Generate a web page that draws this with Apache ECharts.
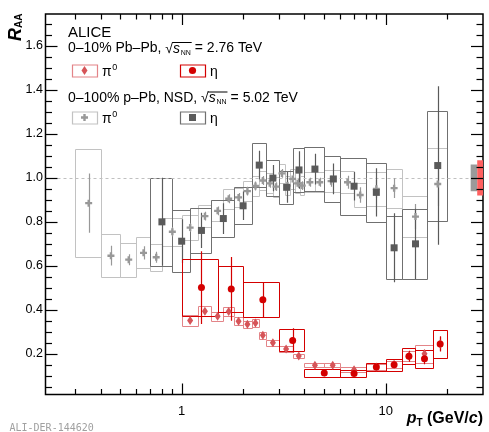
<!DOCTYPE html>
<html>
<head>
<meta charset="utf-8">
<script src="https://cdn.jsdelivr.net/npm/echarts@6/dist/echarts.min.js"></script>
<style>
html,body{margin:0;padding:0;background:#fff;}
#chart{width:489px;height:432px;}
</style>
</head>
<body>
<div id="chart"></div>
<script>
// ---------- p-Pb, 0-100% NSD, sqrt(sNN)=5.02 TeV : pi0 ----------
const pPbPi0Lo   = [0.3,0.4,0.5,0.6,0.7,0.8,1.0,1.2,1.4,1.6,1.8,2.0,2.2,2.4,2.6,2.8,3.0,3.2,3.4,3.6,3.8,4.0,4.5,5.0,6.0,7.0,8,10,12,16];
const pPbPi0Hi   = [0.4,0.5,0.6,0.7,0.8,1.0,1.2,1.4,1.6,1.8,2.0,2.2,2.4,2.6,2.8,3.0,3.2,3.4,3.6,3.8,4.0,4.5,5.0,6.0,7.0,8.0,10,12,16,20];
const pPbPi0X    = [0.35,0.45,0.55,0.65,0.75,0.9,1.1,1.3,1.5,1.7,1.9,2.1,2.3,2.5,2.7,2.9,3.1,3.3,3.5,3.7,3.9,4.25,4.75,5.4,6.5,7.5,9,11,14,18];
const pPbPi0Y    = [0.885,0.646,0.628,0.659,0.639,0.755,0.774,0.826,0.85,0.905,0.911,0.94,0.963,0.988,0.975,0.96,1.02,0.965,0.995,0.975,0.965,0.98,0.98,0.985,0.98,0.922,0.95,0.953,0.824,0.972];
const pPbPi0Stat = [0.135,0.045,0.025,0.03,0.025,0.022,0.02,0.02,0.02,0.02,0.02,0.02,0.02,0.02,0.02,0.02,0.02,0.02,0.02,0.02,0.02,0.02,0.02,0.025,0.03,0.035,0.04,0.045,0.057,0.1];
const pPbPi0Sys  = [0.245,0.099,0.078,0.07,0.062,0.063,0.055,0.05,0.048,0.045,0.045,0.045,0.045,0.045,0.045,0.045,0.045,0.045,0.045,0.045,0.045,0.045,0.045,0.05,0.05,0.055,0.076,0.089,0.095,0.166];

// ---------- p-Pb : eta ----------
const pPbEtaLo   = [0.7,0.9,1.1,1.4,1.8,2.2,2.6,3.0,3.5,4,5,6,8,10,12,16];
const pPbEtaHi   = [0.9,1.1,1.4,1.8,2.2,2.6,3.0,3.5,4.0,5,6,8,10,12,16,20];
const pPbEtaX    = [0.8,1.0,1.25,1.6,2.0,2.4,2.8,3.27,3.76,4.5,5.54,7.0,9.0,11,14,18];
const pPbEtaY    = [0.80,0.712,0.761,0.815,0.873,1.058,0.999,0.957,1.036,1.04,0.995,0.962,0.934,0.682,0.70,1.056];
const pPbEtaStat = [0.2,0.1,0.08,0.07,0.065,0.065,0.06,0.07,0.085,0.07,0.07,0.065,0.11,0.157,0.16,0.36];
const pPbEtaSys  = [0.2,0.14,0.103,0.086,0.084,0.1,0.083,0.075,0.1,0.1,0.105,0.13,0.135,0.143,0.159,0.25];

// ---------- Pb-Pb, 0-10%, sqrt(sNN)=2.76 TeV : pi0 ----------
const pbPi0Lo   = [1.0,1.2,1.4,1.6,1.8,2.0,2.2,2.4,2.6,3.0,3.5,4,5,6,8,10,12,14,17];
const pbPi0Hi   = [1.2,1.4,1.6,1.8,2.0,2.2,2.4,2.6,3.0,3.5,4.0,5,6,8,10,12,14,17,20];
const pbPi0X    = [1.1,1.3,1.5,1.7,1.9,2.1,2.3,2.5,2.8,3.25,3.75,4.5,5.5,7,9,11,13,15.5,18.5];
const pbPi0Y    = [0.352,0.394,0.371,0.392,0.348,0.334,0.34,0.284,0.25,0.222,0.19,0.148,0.148,0.128,0.14,0.152,0.19,0.2,0.245];
const pbPi0Stat = [0.008,0.008,0.008,0.008,0.008,0.008,0.008,0.008,0.008,0.008,0.008,0.008,0.008,0.008,0.01,0.012,0.015,0.02,0.03];
const pbPi0Sys  = [0.024,0.023,0.02,0.02,0.018,0.017,0.017,0.015,0.013,0.012,0.011,0.01,0.01,0.01,0.012,0.015,0.022,0.04,0.065];

// ---------- Pb-Pb : eta ----------
const pbEtaLo   = [1.0,1.5,2.0,3.0,4,6,8,10,12,14,17];
const pbEtaHi   = [1.5,2.0,3.0,4.0,6,8,10,12,14,17,20];
const pbEtaX    = [1.25,1.75,2.5,3.5,5,7,9,11,13,15.5,18.5];
const pbEtaY    = [0.501,0.495,0.446,0.261,0.113,0.11,0.14,0.15,0.189,0.177,0.245];
const pbEtaStat = [0.165,0.145,0.08,0.055,0.015,0.012,0.015,0.015,0.025,0.025,0.035];
const pbEtaSys  = [0.131,0.105,0.079,0.05,0.018,0.017,0.02,0.027,0.036,0.04,0.065];

// normalisation uncertainties (drawn at R = 1 on the right edge)
const normLo    = [26.1, 28.1];
const normHi    = [28.1, 30];
const normErr   = [0.061, 0.08];
const normColor = ['#9a9a9a', '#ff6060'];

// axis ticks and labels
const X_MIN = 0.215, X_MAX = 30, Y_MIN = 0.015, Y_MAX = 1.745;
const xMajor = [1, 10];
const xMinor = [0.3,0.4,0.5,0.6,0.7,0.8,0.9,2,3,4,5,6,7,8,9,20];
const yMajor = [0.2,0.4,0.6,0.8,1.0,1.2,1.4,1.6];
const yMinor = [];
for (let k = 1; k <= 34; k++) {
  const v = +(k * 0.05).toFixed(2);
  if (Math.abs(v / 0.2 - Math.round(v / 0.2)) > 1e-6) yMinor.push(v);
}

const FONT = '"Liberation Sans", Arial, Helvetica, sans-serif';
const C = {
  pbEta: '#d40000', pbEtaBox: '#d40000',
  pbPi0: '#d65458', pbPi0Box: '#e38488',
  pEta: '#5a5a5a', pEtaBox: '#707070',
  pPi0: '#989898', pPi0Box: '#c2c2c2'
};

function zip(a, b) { return a.map((v, i) => [v, b[i]]); }

function boxSeries(lo, hi, y, sys, color, z) {
  return {
    type: 'custom', silent: true, z: z, clip: true,
    encode: { x: [0, 1], y: 2 },
    data: lo.map((l, i) => [l, hi[i], y[i], sys[i]]),
    renderItem(params, api) {
      const a = api.coord([api.value(0), api.value(2) + api.value(3)]);
      const b = api.coord([api.value(1), api.value(2) - api.value(3)]);
      const x0 = Math.round(a[0]) + 0.5, x1 = Math.round(b[0]) + 0.5;
      const y0 = Math.round(a[1]) + 0.5, y1 = Math.round(b[1]) + 0.5;
      return { type: 'rect', shape: { x: x0, y: y0, width: x1 - x0, height: y1 - y0 },
               style: { fill: 'none', stroke: color, lineWidth: 1 } };
    }
  };
}

function errSeries(x, y, err, color, z) {
  return {
    type: 'custom', silent: true, z: z, clip: true,
    encode: { x: 0, y: 1 },
    data: x.map((v, i) => [v, y[i], err[i]]),
    renderItem(params, api) {
      const lo = api.coord([api.value(0), api.value(1) - api.value(2)]);
      const hi = api.coord([api.value(0), api.value(1) + api.value(2)]);
      const px = Math.round(lo[0]) + 0.5;
      return { type: 'line', shape: { x1: px, y1: lo[1], x2: px, y2: hi[1] },
               style: { stroke: color, lineWidth: 1.2 } };
    }
  };
}

function markerSeries(x, y, symbol, size, color, z) {
  return {
    type: 'scatter', silent: true, z: z,
    symbol: symbol, symbolSize: size,
    itemStyle: { color: color, opacity: 1 },
    data: zip(x, y)
  };
}

const CROSS = 'path://M2,0H4V2H6V4H4V6H2V4H0V2H2Z';

function tickSeries(list, horizontal) {
  return {
    type: 'custom', silent: true, z: 20, clip: false,
    encode: { x: 0, y: 1 },
    data: list.map(t => horizontal ? [t[0], Y_MIN, t[1]] : [X_MIN, t[0], t[1]]),
    renderItem(params, api) {
      const len = api.value(2);
      const st = { stroke: '#000', lineWidth: 1.2 };
      if (horizontal) {
        const b = api.coord([api.value(0), Y_MIN]);
        const t = api.coord([api.value(0), Y_MAX]);
        const px = Math.round(b[0]) + 0.5;
        return { type: 'group', children: [
          { type: 'line', shape: { x1: px, y1: b[1], x2: px, y2: b[1] - len }, style: st },
          { type: 'line', shape: { x1: px, y1: t[1], x2: px, y2: t[1] + len }, style: st }
        ] };
      }
      const l = api.coord([X_MIN, api.value(1)]);
      const r = api.coord([X_MAX, api.value(1)]);
      const py = Math.round(l[1]) + 0.5;
      return { type: 'group', children: [
        { type: 'line', shape: { x1: l[0], y1: py, x2: l[0] + len, y2: py }, style: st },
        { type: 'line', shape: { x1: r[0], y1: py, x2: r[0] - len, y2: py }, style: st }
      ] };
    }
  };
}

const normSeries = {
  type: 'custom', silent: true, z: 6, clip: true,
  encode: { x: [0, 1], y: 2 },
  data: normLo.map((l, i) => [l, normHi[i], 1, normErr[i], i]),
  renderItem(params, api) {
    const a = api.coord([api.value(0), api.value(2) + api.value(3)]);
    const b = api.coord([api.value(1), api.value(2) - api.value(3)]);
    return { type: 'rect', shape: { x: a[0], y: a[1], width: b[0] - a[0], height: b[1] - a[1] },
             style: { fill: normColor[api.value(4)] } };
  }
};

// ---------- text helpers ----------
const mctx = document.createElement('canvas').getContext('2d');
function tw(str, size, style) {
  mctx.font = (style || '') + ' ' + size + 'px ' + FONT;
  return mctx.measureText(str).width;
}
function txt(s, x, y, size, style, extra) {
  const st = { text: s, fontSize: size, fontFamily: FONT, fill: '#000', align: 'left', verticalAlign: 'middle' };
  if (style) {
    if (style.indexOf('italic') >= 0) st.fontStyle = 'italic';
    if (style.indexOf('bold') >= 0) st.fontWeight = 'bold';
  }
  Object.assign(st, extra || {});
  return { type: 'text', x: x, y: y, silent: true, style: st };
}
function energyLine(prefix, energy, x, y) {
  const els = [];
  let cx = x;
  els.push(txt(prefix, cx, y, 14)); cx += tw(prefix, 14);
  const rw = tw('\u221A', 14);
  els.push(txt('\u221A', cx, y + 0.5, 14));
  const barStart = cx + rw - 0.8;
  cx += rw;
  els.push(txt('s', cx, y + 0.5, 14, 'italic')); cx += tw('s', 14, 'italic') + 0.8;
  els.push(txt('NN', cx, y + 4.5, 7)); cx += tw('NN', 7);
  const barEnd = cx + 0.8;
  els.push({ type: 'line', silent: true, shape: { x1: barStart, y1: y - 6, x2: barEnd, y2: y - 6 },
             style: { stroke: '#000', lineWidth: 1 } });
  els.push(txt(' = ' + energy + ' TeV', cx, y, 14));
  return els;
}
function legendEntry(x, y, boxColor, marker) {
  return [{ type: 'rect', silent: true, shape: { x: x + 0.5, y: y - 6 + 0.5, width: 25, height: 12 },
            style: { fill: 'none', stroke: boxColor, lineWidth: 1.2 } }, marker];
}
function pi0Label(x, y) {
  return [txt('\u03C0', x, y, 14), txt('0', x + tw('\u03C0', 14) + 0.5, y - 4.5, 9)];
}
function crossPoints(cx, cy, h, t) {
  return [[cx - t, cy - h], [cx + t, cy - h], [cx + t, cy - t], [cx + h, cy - t], [cx + h, cy + t], [cx + t, cy + t],
          [cx + t, cy + h], [cx - t, cy + h], [cx - t, cy + t], [cx - h, cy + t], [cx - h, cy - t], [cx - t, cy - t]];
}

const graphics = [].concat(
  [txt('ALICE', 68, 33, 15)],
  energyLine('0\u201310% Pb\u2013Pb, ', '2.76', 68, 48.5),
  legendEntry(72, 70.5, C.pbPi0Box,
    { type: 'polygon', silent: true, shape: { points: [[84.5, 66], [87.5, 70.5], [84.5, 75], [81.5, 70.5]] }, style: { fill: C.pbPi0 } }),
  pi0Label(102, 72),
  legendEntry(180, 70.5, C.pbEtaBox,
    { type: 'circle', silent: true, shape: { cx: 192.5, cy: 70.5, r: 3.6 }, style: { fill: C.pbEta } }),
  [txt('\u03B7', 210, 72.5, 14)],
  energyLine('0\u2013100% p\u2013Pb, NSD, ', '5.02', 68, 98),
  legendEntry(72, 117.5, C.pPi0Box,
    { type: 'polygon', silent: true, shape: { points: crossPoints(84.5, 117.5, 3.5, 1.2) }, style: { fill: C.pPi0 } }),
  pi0Label(102, 119),
  legendEntry(180, 117.5, C.pEtaBox,
    { type: 'rect', silent: true, shape: { x: 189, y: 114, width: 7, height: 7 }, style: { fill: C.pEta } }),
  [txt('\u03B7', 210, 119.5, 14)],
  // y-axis title
  [{ type: 'text', silent: true, x: 25, y: 41, rotation: Math.PI / 2,
     style: { text: '{r|R}{s|AA}', align: 'left', verticalAlign: 'bottom',
              rich: { r: { fontSize: 18, fontWeight: 'bold', fontStyle: 'italic', fontFamily: FONT, fill: '#000' },
                      s: { fontSize: 10, fontWeight: 'bold', fontFamily: FONT, fill: '#000', padding: [6, 0, 0, 0] } } } }],
  // x-axis title
  [{ type: 'text', silent: true, x: 483, y: 419,
     style: { text: '{p|p}{t|T}{n| (GeV/}{c|c}{n|)}', align: 'right', verticalAlign: 'middle',
              rich: { p: { fontSize: 16, fontWeight: 'bold', fontStyle: 'italic', fontFamily: FONT, fill: '#000' },
                      t: { fontSize: 10, fontWeight: 'bold', fontFamily: FONT, fill: '#000', padding: [8, 0, 0, 0] },
                      n: { fontSize: 16, fontWeight: 'bold', fontFamily: FONT, fill: '#000' },
                      c: { fontSize: 16, fontWeight: 'bold', fontStyle: 'italic', fontFamily: FONT, fill: '#000' } } } }],
  [{ type: 'text', silent: true, x: 9.5, y: 428,
     style: { text: 'ALI-DER-144620', fontSize: 10, fontFamily: '"DejaVu Sans Mono", monospace', fill: '#a0a0a0', align: 'left', verticalAlign: 'middle' } }]
);

const chart = echarts.init(document.getElementById('chart'), null, { renderer: 'canvas' });
chart.setOption({
  animation: false,
  backgroundColor: '#fff',
  grid: { left: 45.5, right: 6, top: 14, bottom: 37.5, show: true, borderColor: '#000', borderWidth: 1.5, backgroundColor: 'transparent' },
  xAxis: {
    type: 'log', logBase: 10, min: X_MIN, max: X_MAX,
    axisLine: { show: false }, axisTick: { show: false }, splitLine: { show: false }, minorTick: { show: false },
    axisLabel: {
      margin: 10, fontSize: 13, fontFamily: FONT, color: '#000',
      showMinLabel: false, showMaxLabel: false,
      formatter: v => (Math.abs(v - 1) < 1e-6 ? '1' : (Math.abs(v - 10) < 1e-5 ? '10' : ''))
    }
  },
  yAxis: {
    type: 'value', min: Y_MIN, max: Y_MAX,
    axisLine: { show: false }, axisTick: { show: false }, splitLine: { show: false },
    axisLabel: { customValues: yMajor, margin: 2.5, fontSize: 12.5, fontFamily: FONT, color: '#000',
                 formatter: v => v.toFixed(1) }
  },
  series: [
    Object.assign(boxSeries(pPbPi0Lo, pPbPi0Hi, pPbPi0Y, pPbPi0Sys, C.pPi0Box, 3), {
      markLine: { silent: true, symbol: 'none', label: { show: false },
                  lineStyle: { color: '#c0c0c0', type: [3, 3], width: 1 }, data: [{ yAxis: 1 }] }
    }),
    boxSeries(pPbEtaLo, pPbEtaHi, pPbEtaY, pPbEtaSys, C.pEtaBox, 4),
    errSeries(pPbPi0X, pPbPi0Y, pPbPi0Stat, C.pPi0, 5),
    errSeries(pPbEtaX, pPbEtaY, pPbEtaStat, C.pEta, 5),
    markerSeries(pPbPi0X, pPbPi0Y, CROSS, 7, C.pPi0, 6),
    markerSeries(pPbEtaX, pPbEtaY, 'rect', 7, C.pEta, 7),
    boxSeries(pbPi0Lo, pbPi0Hi, pbPi0Y, pbPi0Sys, C.pbPi0Box, 8),
    boxSeries(pbEtaLo, pbEtaHi, pbEtaY, pbEtaSys, C.pbEtaBox, 9),
    errSeries(pbPi0X, pbPi0Y, pbPi0Stat, C.pbPi0, 10),
    errSeries(pbEtaX, pbEtaY, pbEtaStat, C.pbEta, 10),
    markerSeries(pbPi0X, pbPi0Y, 'diamond', [6, 9], C.pbPi0, 11),
    markerSeries(pbEtaX, pbEtaY, 'circle', 7, C.pbEta, 12),
    normSeries,
    tickSeries(xMajor.map(v => [v, 11]).concat(xMinor.map(v => [v, 5.5])), true),
    tickSeries(yMajor.map(v => [v, 12]).concat(yMinor.map(v => [v, 6.5])), false)
  ],
  graphic: { elements: graphics }
});
</script>
</body>
</html>
